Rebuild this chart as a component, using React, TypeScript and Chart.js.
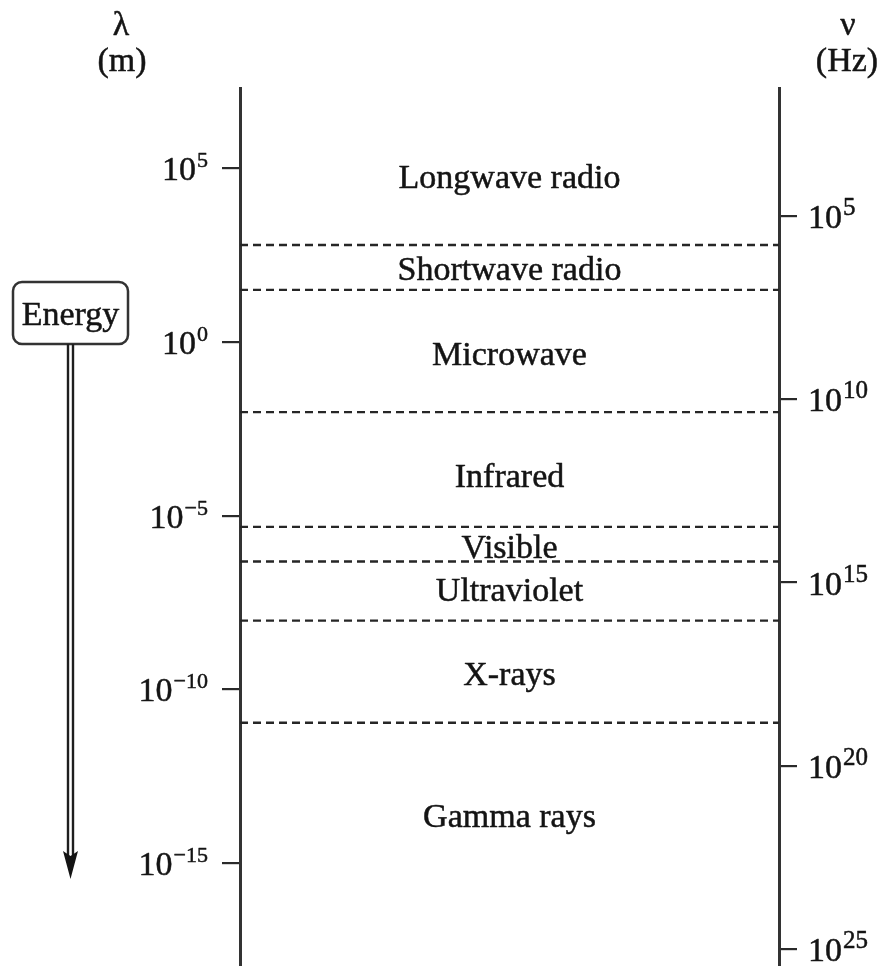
import React, { useEffect, useRef } from "react";
import { Chart, registerables } from "chart.js";

Chart.register(...registerables);

// Wavelength axis (log10 of λ in m), ticks
const lambdaTicks = [5, 0, -5, -10, -15];
// Frequency axis (log10 of ν in Hz), ticks
const nuTicks = [5, 10, 15, 20, 25];
// Axis ranges (log10 units)
const lambdaRange = [-17.96, 7.31];
const nuRange = [1.51, 25.46];
// Region boundaries on the wavelength axis (log10 λ)
const boundaries = [2.79, 1.5, -2.02, -5.32, -6.32, -8.02, -10.96];
// Region names and where their labels sit on the wavelength axis (log10 λ)
const regions = [
  "Longwave radio",
  "Shortwave radio",
  "Microwave",
  "Infrared",
  "Visible",
  "Ultraviolet",
  "X-rays",
  "Gamma rays",
];
const regionLabelAt = [4.79, 2.14, -0.33, -3.83, -5.86, -7.11, -9.54, -13.61];

const FONT = '"Liberation Serif"';
const INK = "#141414";
const LINE = "#333333";

function ink(ctx: CanvasRenderingContext2D, text: string, x: number, y: number) {
  ctx.fillText(text, x, y);
  ctx.strokeText(text, x, y);
}

function drawPow(
  ctx: CanvasRenderingContext2D,
  exp: number,
  x: number,
  y: number,
  side: "left" | "right",
  supSize: number
) {
  const expStr = exp < 0 ? "\u2212" + Math.abs(exp) : String(exp);
  ctx.font = `34px ${FONT}`;
  const wb = ctx.measureText("10").width;
  ctx.font = `${supSize}px ${FONT}`;
  const ws = ctx.measureText(expStr).width;
  const start = side === "left" ? x - (wb + ws) : x;
  ctx.textAlign = "left";
  ctx.textBaseline = "alphabetic";
  ctx.font = `34px ${FONT}`;
  ink(ctx, "10", start, y + 12);
  ctx.font = `${supSize}px ${FONT}`;
  ink(ctx, expStr, start + wb + 1, y - 1);
}

const overlay = {
  id: "overlay",
  afterDraw(chart: any) {
    const ctx: CanvasRenderingContext2D = chart.ctx;
    const yL = chart.scales.yL;
    const yR = chart.scales.yR;
    const xs = chart.scales.x;
    ctx.save();
    ctx.fillStyle = INK;
    ctx.strokeStyle = INK;
    ctx.lineWidth = 0.5;
    ctx.lineJoin = "round";

    // region labels
    ctx.font = `34px ${FONT}`;
    ctx.textAlign = "center";
    ctx.textBaseline = "alphabetic";
    const cx = xs.getPixelForValue(0.5);
    regions.forEach((r, i) => {
      ink(ctx, r, cx, yL.getPixelForValue(regionLabelAt[i]) + 12);
    });

    // tick labels
    yL.ticks.forEach((t: any) => {
      drawPow(ctx, t.value, yL.right - 33, yL.getPixelForValue(t.value), "left", 22);
    });
    yR.ticks.forEach((t: any) => {
      drawPow(ctx, t.value, yR.left + 29, yR.getPixelForValue(t.value), "right", 25);
    });

    // axis titles
    ctx.textAlign = "center";
    ctx.textBaseline = "alphabetic";
    ctx.font = `34px ${FONT}`;
    ink(ctx, "\u03bb", 121, 35);
    ink(ctx, "(m)", 122, 71);
    ink(ctx, "\u03bd", 848, 35);
    ink(ctx, "(Hz)", 847, 71);

    // Energy box
    ctx.strokeStyle = LINE;
    ctx.lineWidth = 2.5;
    ctx.beginPath();
    (ctx as any).roundRect(13, 282, 115, 62, 9);
    ctx.stroke();
    ctx.strokeStyle = INK;
    ctx.lineWidth = 0.5;
    ctx.font = `34px ${FONT}`;
    ink(ctx, "Energy", 70.5, 325);

    // Energy arrow (double shaft)
    ctx.lineWidth = 2.4;
    ctx.strokeStyle = "#1e1e1e";
    ctx.beginPath();
    ctx.moveTo(68, 344);
    ctx.lineTo(68, 856);
    ctx.moveTo(73, 344);
    ctx.lineTo(73, 856);
    ctx.stroke();
    ctx.fillStyle = "#141414";
    ctx.beginPath();
    ctx.moveTo(63, 851);
    ctx.lineTo(70.5, 856);
    ctx.lineTo(78, 851);
    ctx.lineTo(70.5, 879);
    ctx.closePath();
    ctx.fill();

    ctx.restore();
  },
};

export default function App() {
  const ref = useRef<HTMLCanvasElement | null>(null);
  useEffect(() => {
    if (!ref.current) return;
    let chart: Chart | null = null;
    let cancelled = false;
    const build = () => {
      if (cancelled || !ref.current) return;
      const datasets = boundaries.map((b) => ({
        type: "line" as const,
        data: [
          { x: 0, y: b },
          { x: 1, y: b },
        ],
        xAxisID: "x",
        yAxisID: "yL",
        borderColor: "#262626",
        borderWidth: 2.4,
        borderDash: [8, 5],
        pointRadius: 0,
        fill: false,
      }));
      chart = new Chart(ref.current, {
        type: "line",
        data: { datasets },
        options: {
          animation: false,
          responsive: false,
          layout: { padding: { top: 88, left: 0, right: 0, bottom: 0 } },
          plugins: { legend: { display: false }, tooltip: { enabled: false } },
          scales: {
            x: { type: "linear", min: 0, max: 1, display: false },
            yL: {
              type: "linear",
              position: "left",
              min: lambdaRange[0],
              max: lambdaRange[1],
              afterFit: (s: any) => {
                s.width = 240;
              },
              afterBuildTicks: (s: any) => {
                s.ticks = lambdaTicks.map((v) => ({ value: v }));
              },
              ticks: { display: false },
              grid: {
                drawOnChartArea: false,
                drawTicks: true,
                tickLength: 18,
                color: "#2a2a2a",
                lineWidth: 2.2,
              },
              border: { display: true, color: LINE, width: 3 },
            },
            yR: {
              type: "linear",
              position: "right",
              reverse: true,
              min: nuRange[0],
              max: nuRange[1],
              afterFit: (s: any) => {
                s.width = 101;
              },
              afterBuildTicks: (s: any) => {
                s.ticks = nuTicks.map((v) => ({ value: v }));
              },
              ticks: { display: false },
              grid: {
                drawOnChartArea: false,
                drawTicks: true,
                tickLength: 18,
                color: "#2a2a2a",
                lineWidth: 2.2,
              },
              border: { display: true, color: LINE, width: 3 },
            },
          },
        } as any,
        plugins: [overlay],
      });
    };
    const fonts = (document as any).fonts;
    if (fonts && fonts.load) {
      Promise.all([
        fonts.load('34px "Liberation Serif"', "Energy λν"),
        fonts.load('22px "Liberation Serif"', "0123456789\u2212"),
      ])
        .catch(() => null)
        .then(build);
    } else {
      build();
    }
    return () => {
      cancelled = true;
      if (chart) chart.destroy();
    };
  }, []);
  return (
    <div style={{ position: "absolute", left: 0, top: 0, width: 880, height: 966, background: "#fff" }}>
      <canvas ref={ref} width={880} height={966} style={{ width: 880, height: 966, display: "block" }} />
    </div>
  );
}
